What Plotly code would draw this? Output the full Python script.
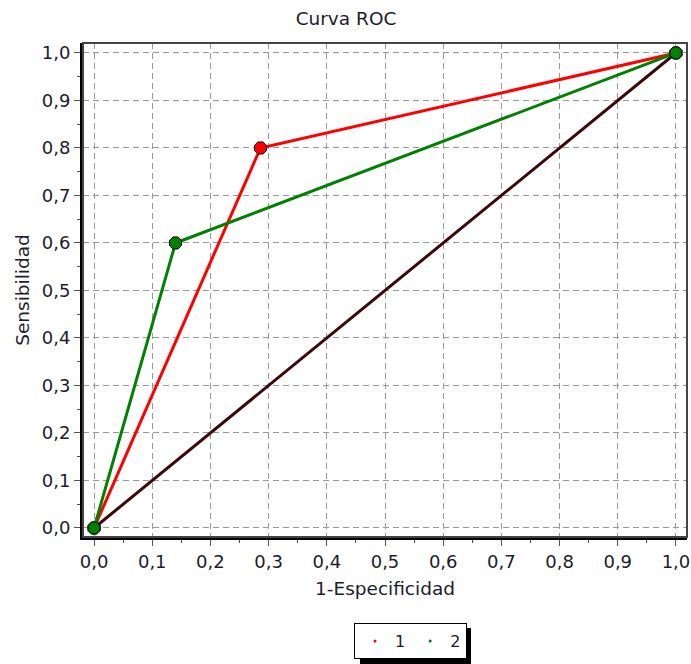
import plotly.graph_objects as go

# Data
series1_x = [0.0, 0.286, 1.0]
series1_y = [0.0, 0.8, 1.0]
series2_x = [0.0, 0.14, 1.0]
series2_y = [0.0, 0.6, 1.0]
diag_x = [0.0, 1.0]
diag_y = [0.0, 1.0]
ticks = [0.0, 0.1, 0.2, 0.3, 0.4, 0.5, 0.6, 0.7, 0.8, 0.9, 1.0]
tick_labels = ["0,0", "0,1", "0,2", "0,3", "0,4", "0,5", "0,6", "0,7", "0,8", "0,9", "1,0"]
minor_ticks = [0.05, 0.15, 0.25, 0.35, 0.45, 0.55, 0.65, 0.75, 0.85, 0.95]

FONT = "DejaVu Sans"
TXT = "#1c1c2c"
W, H = 691, 664
ML, MR, MT, MB = 83, 4, 43, 127
PW, PH = W - ML - MR, H - MT - MB


def px_x(p):
    return (p - ML) / PW


def px_y(p):
    return (H - MB - p) / PH


fig = go.Figure()

fig.add_trace(go.Scatter(x=diag_x, y=diag_y, mode="lines",
                         line=dict(color="#3a0808", width=3), showlegend=False))
fig.add_trace(go.Scatter(x=series1_x, y=series1_y, mode="lines+markers",
                         line=dict(color="#ff0000", width=3),
                         marker=dict(symbol="octagon", size=13, color="#ff0000",
                                     line=dict(color="black", width=1)),
                         showlegend=False))
fig.add_trace(go.Scatter(x=series2_x, y=series2_y, mode="lines+markers",
                         line=dict(color="#008000", width=3),
                         marker=dict(symbol="octagon", size=13, color="#008000",
                                     line=dict(color="black", width=1)),
                         showlegend=False))
# legend entries
fig.add_trace(go.Scatter(x=[None], y=[None], mode="markers", name="1",
                         marker=dict(color="#ff0000", size=3)))
fig.add_trace(go.Scatter(x=[None], y=[None], mode="markers", name="2",
                         marker=dict(color="#008000", size=3)))

axis_common = dict(
    tickmode="array", tickvals=ticks, ticktext=tick_labels,
    showgrid=True, gridcolor="#999999", griddash="6px,4px", gridwidth=1,
    zeroline=False, showline=True, linecolor="black", linewidth=3, mirror=False,
    ticks="outside", ticklen=6, tickcolor="#555555", tickwidth=1,
    minor=dict(tickvals=minor_ticks, ticks="outside", ticklen=3,
               tickcolor="#555555", showgrid=False),
    tickfont=dict(family=FONT, size=18, color=TXT),
)

# legend box geometry (approx.) for its drop shadow
LEG_L, LEG_R, LEG_T, LEG_B = 355, 466, 623, 659

shapes = [
    dict(type="rect", xref="paper", yref="paper", x0=0, x1=1, y0=0, y1=1,
         line=dict(color="#444444", width=2), layer="above"),
    dict(type="rect", xref="paper", yref="paper",
         x0=px_x(LEG_L + 5), x1=px_x(LEG_R + 5), y0=px_y(LEG_B + 5), y1=px_y(LEG_T + 5),
         line=dict(width=0), fillcolor="black", layer="above"),
]

fig.update_layout(
    width=W, height=H,
    paper_bgcolor="white", plot_bgcolor="white",
    margin=dict(l=ML, r=MR, t=MT, b=MB, autoexpand=False),
    title=dict(text="Curva ROC", x=346 / W, xanchor="center",
               y=1 - 19 / H, yanchor="middle",
               font=dict(family=FONT, size=18.5, color=TXT)),
    xaxis=dict(range=[-0.019, 1.019], title=dict(text="1-Especificidad", standoff=12,
               font=dict(family=FONT, size=18.5, color=TXT)), **axis_common),
    yaxis=dict(range=[-0.019, 1.021], title=dict(text="Sensibilidad", standoff=8,
               font=dict(family=FONT, size=18.5, color=TXT)), **axis_common),
    legend=dict(orientation="h", x=px_x(410.5), xanchor="center", y=px_y(LEG_T), yanchor="top",
                bordercolor="black", borderwidth=1, bgcolor="white",
                font=dict(family=FONT, size=16, color=TXT),
                itemwidth=30, tracegroupgap=0),
    showlegend=True,
    shapes=shapes,
)

fig.write_html("out.html", config={"displayModeBar": False},
               post_script="document.body.style.margin='0';")
